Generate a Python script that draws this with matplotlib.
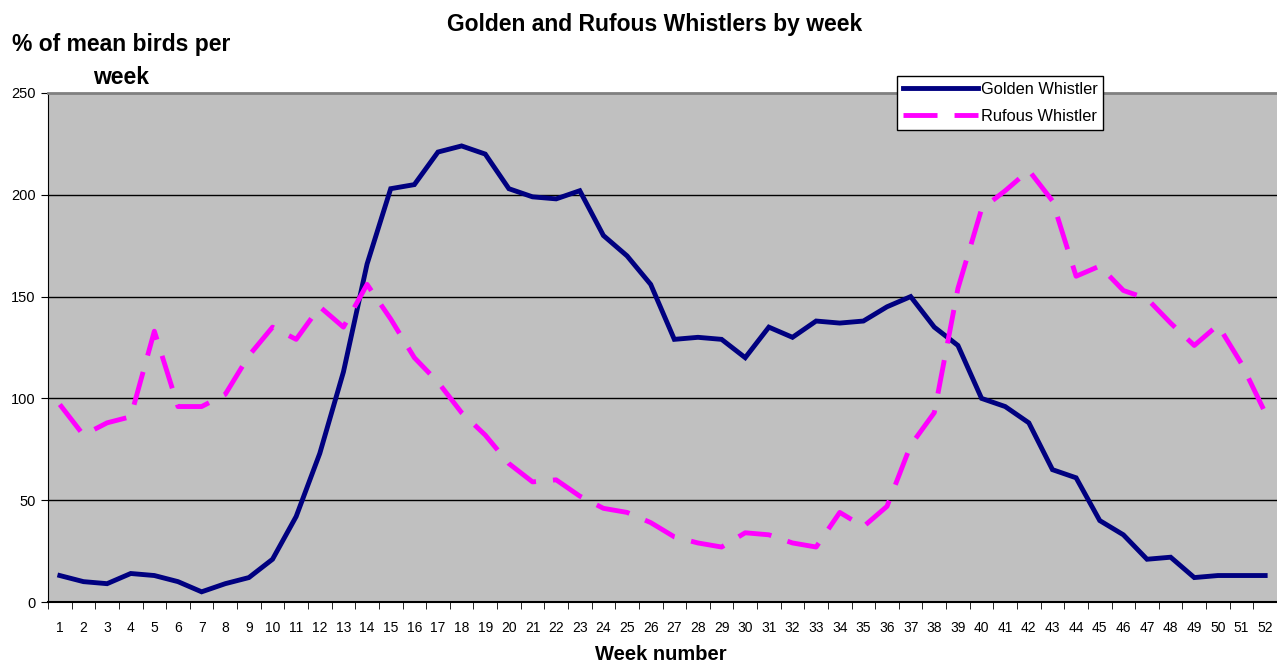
import numpy as np
import matplotlib
matplotlib.use("Agg")
import matplotlib.pyplot as plt

plt.rcParams['font.family'] = ['Liberation Sans', 'DejaVu Sans']

# weekly values (% of mean birds per week)
weeks = list(range(1, 53))
golden = [13, 10, 9, 14, 13, 10, 5, 9, 12, 21, 42, 73, 113, 166, 203, 205, 221, 224, 220, 203,
          199, 198, 202, 180, 170, 156, 129, 130, 129, 120, 135, 130, 138, 137, 138, 145, 150, 135,
          126, 100, 96, 88, 65, 61, 40, 33, 21, 22, 12, 13, 13, 13]
rufous = [97, 82, 88, 91, 133, 96, 96, 102, 121, 135, 129, 145, 135, 156, 139, 120, 108, 93, 82, 68,
          59, 60, 52, 46, 44, 39, 32, 29, 27, 34, 33, 29, 27, 44, 37, 47, 77, 93, 154, 193,
          202, 212, 197, 160, 165, 153, 149, 137, 126, 136, 117, 93]
y_ticks = [0, 50, 100, 150, 200, 250]

fig = plt.figure(figsize=(12.77, 6.64), dpi=100)
ax = fig.add_axes([48 / 1277, 1 - 602 / 664, 1 - 48 / 1277, (602 - 93) / 664])
ax.set_facecolor('#C0C0C0')

for v in y_ticks[1:-1]:
    ax.axhline(v, color='black', lw=1, zorder=1)

ax.plot(weeks, golden, color='#000080', lw=3.5, label='Golden Whistler',
        solid_joinstyle='miter', zorder=3)
ax.plot(weeks, rufous, color='#FF00FF', lw=3.5, dashes=(7, 3.5), label='Rufous Whistler',
        dash_capstyle='butt', zorder=3)

ax.set_xlim(0.5, 52.5)
ax.set_ylim(0, 250)
ax.set_yticks(y_ticks)
ax.set_xticks(weeks)
ax.set_xticks(np.arange(0.5, 53, 1), minor=True)
ax.tick_params(axis='x', which='major', length=0, pad=14, labelsize=10)
ax.tick_params(axis='x', which='minor', length=5, direction='out', color='black')
ax.tick_params(axis='y', length=5, direction='out', labelsize=10.5, pad=4)

ax.spines['top'].set_color('#808080')
ax.spines['top'].set_linewidth(2)
ax.spines['right'].set_visible(False)
ax.spines['left'].set_color('black')
ax.spines['bottom'].set_color('black')
ax.spines['bottom'].set_linewidth(1.5)

fig.text(655 / 1277, 1 - 24 / 664, 'Golden and Rufous Whistlers by week',
         ha='center', va='center', fontsize=16.5, fontweight='bold')
fig.text(121 / 1277, 1 - 61 / 664, '% of mean birds per\nweek', ha='center', va='center',
         fontsize=16.5, fontweight='bold', linespacing=1.5)
fig.text(661 / 1277, 1 - 655 / 664, 'Week number', ha='center', va='center',
         fontsize=14.5, fontweight='bold')

leg = ax.legend(loc='upper left', bbox_to_anchor=(897 / 1277, 1 - 76 / 664),
                bbox_transform=fig.transFigure, fontsize=11.8, frameon=True, fancybox=False,
                handlelength=4.6, handletextpad=0.15, labelspacing=0.75, borderpad=0.35,
                borderaxespad=0)
leg.get_frame().set_edgecolor('black')
leg.get_frame().set_facecolor('white')
leg.get_frame().set_alpha(1)
leg.get_frame().set_linewidth(1)
leg.set_zorder(5)

fig.savefig('out.png', dpi=100)
